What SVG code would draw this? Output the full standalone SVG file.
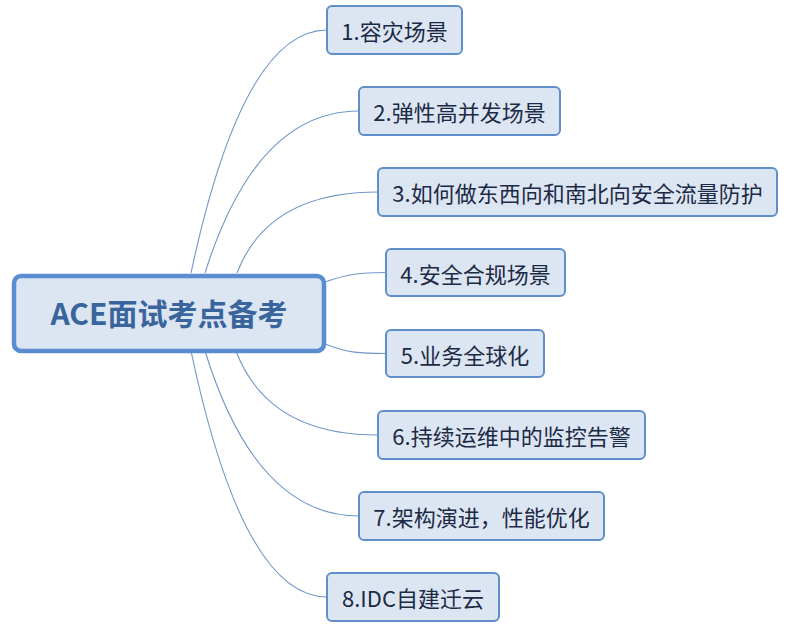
<svg xmlns="http://www.w3.org/2000/svg" width="802" height="636" viewBox="0 0 802 636">
<style>
.bg{fill:#ffffff}
.root rect{fill:#dce6f2;stroke:#5a8dd0;stroke-width:4.5}
.root text{font-family:"Noto Sans CJK SC","Microsoft YaHei",sans-serif;font-size:30px;font-weight:bold;fill:#3a659c;text-anchor:middle}
.node rect{fill:#dce6f2;stroke:#5f8ec8;stroke-width:2}
.node text{font-family:"Noto Sans CJK SC","Microsoft YaHei",sans-serif;font-size:22px;fill:#1c2a45;text-anchor:middle}
.links path{fill:none;stroke:#7096c8;stroke-width:1.1}
</style>
<rect class="bg" x="0" y="0" width="802" height="636"/>
<g id="connectors" class="links">
<path d="M191,273 Q243,30 327,30"/>
<path d="M205,273 Q256,111 359,111"/>
<path d="M237,273 Q268,192 378,192"/>
<path d="M325,282 C348,274 360,272.5 386,272.5"/>
<path d="M325,344 C348,353 360,353.5 386,353.5"/>
<path d="M236,351 Q268,435 378,435"/>
<path d="M205,351 Q256,516 359,516"/>
<path d="M191,351 Q243,597 327,597"/>
</g>
<g id="root" class="root">
<rect x="14" y="276" width="310" height="75" rx="7"/>
<text x="169" y="325">ACE面试考点备考</text>
</g>
<g id="n1" class="node">
<rect x="327" y="6" width="135" height="48" rx="5"/>
<text x="394.5" y="40">1.容灾场景</text>
</g>
<g id="n2" class="node">
<rect x="359" y="87" width="201" height="48" rx="5"/>
<text x="459.5" y="121">2.弹性高并发场景</text>
</g>
<g id="n3" class="node">
<rect x="378" y="168" width="399" height="48" rx="5"/>
<text x="577.5" y="202">3.如何做东西向和南北向安全流量防护</text>
</g>
<g id="n4" class="node">
<rect x="386" y="249" width="179" height="47" rx="5"/>
<text x="475.5" y="282.5">4.安全合规场景</text>
</g>
<g id="n5" class="node">
<rect x="386" y="330" width="158" height="47" rx="5"/>
<text x="465" y="363.5">5.业务全球化</text>
</g>
<g id="n6" class="node">
<rect x="378" y="411" width="267" height="48" rx="5"/>
<text x="511.5" y="445">6.持续运维中的监控告警</text>
</g>
<g id="n7" class="node">
<rect x="359" y="492" width="245" height="48" rx="5"/>
<text x="481.5" y="526">7.架构演进，性能优化</text>
</g>
<g id="n8" class="node">
<rect x="327" y="573" width="172" height="48" rx="5"/>
<text x="413" y="607">8.IDC自建迁云</text>
</g>
</svg>
